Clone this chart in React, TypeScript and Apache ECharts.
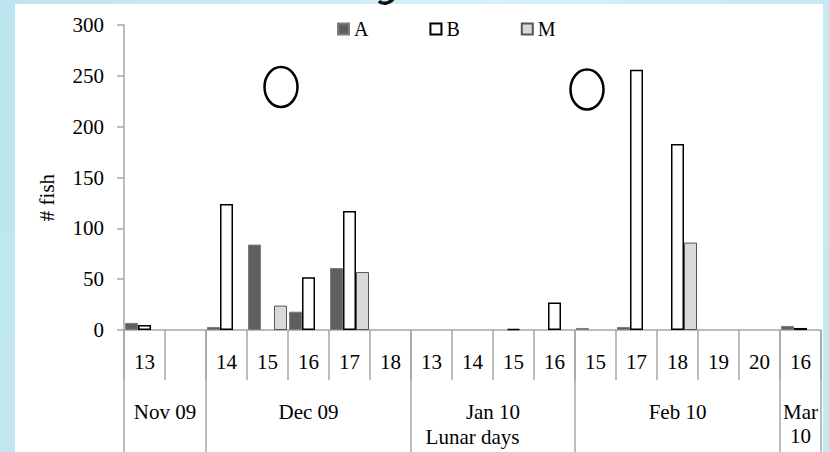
import React, { useEffect, useRef } from "react";
import * as echarts from "echarts";

// Lunar day categories (bottom axis, first row)
const lunarDays = ["13", "", "14", "15", "16", "17", "18", "13", "14", "15", "16", "15", "17", "18", "19", "20", "16"];
// Month groups (second row) and how many lunar-day categories each spans
const months = ["Nov 09", "Dec 09", "Jan 10", "Feb 10", "Mar\n10"];
const monthSizes = [2, 5, 4, 5, 1];

// Series values (# fish)
const seriesA = [7, 0, 3, 84, 18, 61, 0, 0, 0, 0, 0, 2, 3, 0, 0, 0, 4];
const seriesB = [5, 0, 124, 0, 52, 117, 0, 0, 0, 1, 27, 0, 256, 183, 0, 0, 2];
const seriesM = [0, 0, 0, 24, 0, 57, 0, 0, 0, 0, 0, 0, 0, 86, 0, 0, 0];

const yMin = 0;
const yMax = 300;
const yStep = 50;

const SERIF = '"Liberation Serif", "Times New Roman", serif';
const AXIS_GRAY = "#a6a6a6";

export default function App() {
  const ref = useRef<HTMLDivElement>(null);

  useEffect(() => {
    if (!ref.current) return;
    const chart = echarts.init(ref.current, null, { renderer: "svg" });

    // Half-step category axis for month group labels and group boundaries
    const slotCount = lunarDays.length * 2 + 1;
    const monthSlots: string[] = new Array(slotCount).fill("");
    const boundaries = new Set<number>([0]);
    let start = 0;
    months.forEach((m, i) => {
      monthSlots[2 * start + monthSizes[i]] = m;
      start += monthSizes[i];
      boundaries.add(2 * start);
    });

    const toBar = (arr: number[]) => arr.map((v) => (v === 0 ? null : v));

    const option: any = {
      animation: false,
      backgroundColor: "transparent",
      grid: { left: 124, right: 8, top: 25, bottom: 122, containLabel: false, outerBoundsMode: "none" },
      legend: {
        left: 332,
        top: 14,
        icon: "rect",
        itemWidth: 11,
        itemHeight: 11,
        itemGap: 61,
        textStyle: { fontSize: 20, fontFamily: SERIF, color: "#000" },
        data: ["A", "B", "M"],
      },
      xAxis: [
        {
          type: "category",
          data: lunarDays,
          position: "bottom",
          axisLine: { show: true, lineStyle: { color: AXIS_GRAY, width: 1.5 } },
          axisTick: { show: true, interval: 0, length: 50, lineStyle: { color: AXIS_GRAY, width: 1.5 } },
          axisLabel: { interval: 0, fontSize: 21, fontFamily: SERIF, color: "#000", margin: 20, lineHeight: 24 },
          splitLine: { show: false },
        },
        {
          type: "category",
          data: monthSlots,
          boundaryGap: false,
          position: "bottom",
          name: "Lunar days",
          nameLocation: "middle",
          nameGap: 96,
          nameMoveOverlap: false,
          nameTextStyle: { fontSize: 21, fontFamily: SERIF, color: "#000" },
          axisLine: { show: false },
          axisTick: {
            show: true,
            interval: (i: number) => boundaries.has(i),
            length: 130,
            lineStyle: { color: AXIS_GRAY, width: 1.5 },
          },
          axisLabel: { interval: 0, fontSize: 21, fontFamily: SERIF, color: "#000", margin: 70, lineHeight: 24 },
          splitLine: { show: false },
        },
      ],
      yAxis: {
        type: "value",
        min: yMin,
        max: yMax,
        interval: yStep,
        name: "# fish",
        nameLocation: "middle",
        nameGap: 67,
        nameMoveOverlap: false,
        nameTextStyle: { fontSize: 21, fontFamily: SERIF, color: "#000", padding: [0, 40, 0, 0] },
        axisLine: { show: true, lineStyle: { color: AXIS_GRAY, width: 1.5 } },
        axisTick: { show: true, length: 7, lineStyle: { color: AXIS_GRAY, width: 1.5 } },
        axisLabel: { fontSize: 21, fontFamily: SERIF, color: "#000", margin: 20 },
        splitLine: { show: false },
      },
      series: [
        {
          name: "A",
          type: "bar",
          data: toBar(seriesA),
          barWidth: 13,
          barGap: "0%",
          itemStyle: { color: "#5f5f5f", borderColor: "#7d7d7d", borderWidth: 1 },
        },
        {
          name: "B",
          type: "bar",
          data: toBar(seriesB),
          barWidth: 13,
          barGap: "0%",
          itemStyle: { color: "#ffffff", borderColor: "#000000", borderWidth: 1.5 },
        },
        {
          name: "M",
          type: "bar",
          data: toBar(seriesM),
          barWidth: 13,
          barGap: "0%",
          itemStyle: { color: "#d9d9d9", borderColor: "#555555", borderWidth: 1 },
        },
      ],
      graphic: [
        {
          type: "rect",
          silent: true,
          z: -100,
          shape: { x: 15, y: 4, width: 808, height: 460 },
          style: { fill: "#ffffff" },
        },
        {
          type: "bezierCurve",
          silent: true,
          shape: { x1: 379, y1: 1, cpx1: 382, cpy1: 4.5, cpx2: 389, cpy2: 4, x2: 393, y2: -1 },
          style: { stroke: "#111111", lineWidth: 3.5, fill: "none" },
        },
        {
          type: "ellipse",
          silent: true,
          shape: { cx: 281, cy: 87, rx: 16.5, ry: 20 },
          style: { fill: "none", stroke: "#000", lineWidth: 2.5 },
        },
        {
          type: "ellipse",
          silent: true,
          shape: { cx: 587, cy: 89.5, rx: 16.5, ry: 20 },
          style: { fill: "none", stroke: "#000", lineWidth: 2.5 },
        },
      ],
    };

    chart.setOption(option);
    return () => chart.dispose();
  }, []);

  return (
    <div
      style={{
        position: "fixed",
        left: 0,
        top: 0,
        width: 829,
        height: 452,
        background:
          "linear-gradient(100deg, #bde4ee 0%, #cdeef5 35%, #d6f2f8 55%, #c9ecf4 80%, #c4e9f2 100%)",
      }}
    >
      <div ref={ref} style={{ width: 829, height: 452 }} />
    </div>
  );
}
